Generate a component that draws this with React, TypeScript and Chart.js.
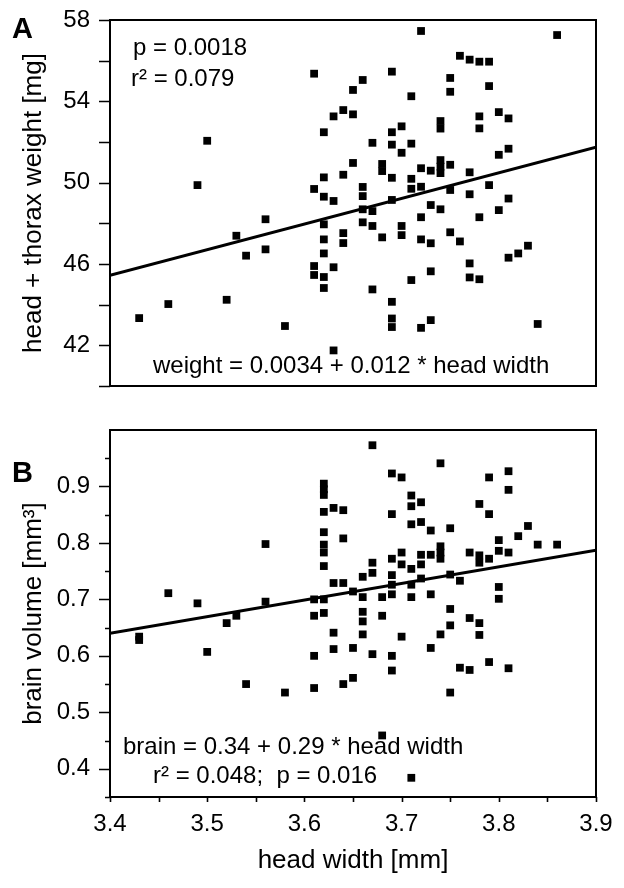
import React, { useEffect, useRef } from "react";
import { Chart, registerables } from "chart.js";

Chart.register(...registerables);

const FONT = "'Liberation Sans', Arial, Helvetica, sans-serif";

// ---- Panel A: head + thorax weight ----
const weightX = [
  3.61, 3.66, 3.65, 3.64, 3.63, 3.65, 3.62, 3.50, 3.65, 3.62,
  3.64, 3.49, 3.61, 3.62, 3.63, 3.66, 3.66, 3.66, 3.67, 3.66,
  3.67, 3.56, 3.53, 3.62, 3.64, 3.64, 3.62, 3.54, 3.56, 3.62,
  3.61, 3.61, 3.63, 3.62, 3.62, 3.67, 3.46, 3.43, 3.52, 3.58,
  3.63, 3.72, 3.86, 3.76, 3.77, 3.78, 3.79, 3.69, 3.75, 3.75,
  3.79, 3.71, 3.80, 3.81, 3.78, 3.78, 3.74, 3.74, 3.70, 3.69,
  3.67, 3.69, 3.71, 3.70, 3.81, 3.80, 3.68, 3.68, 3.72, 3.73,
  3.74, 3.74, 3.74, 3.75, 3.77, 3.69, 3.71, 3.71, 3.72, 3.75,
  3.79, 3.77, 3.81, 3.69, 3.73, 3.74, 3.80, 3.72, 3.78, 3.70,
  3.70, 3.68, 3.75, 3.72, 3.73, 3.76, 3.83, 3.82, 3.81, 3.77,
  3.73, 3.71, 3.77, 3.78, 3.69, 3.69, 3.69, 3.73, 3.72, 3.84,
];
const weightY = [
  55.36, 55.05, 54.56, 53.57, 53.26, 53.36, 52.48, 52.06, 50.97, 50.26,
  50.39, 49.88, 49.69, 49.31, 49.10, 49.79, 49.34, 48.69, 48.60, 48.05,
  47.87, 48.20, 47.39, 47.95, 47.52, 47.03, 47.21, 46.41, 46.72, 46.52,
  45.90, 45.46, 45.84, 45.36, 44.82, 44.75, 44.03, 43.34, 44.24, 42.95,
  41.75, 57.46, 57.26, 56.24, 56.05, 55.95, 55.95, 55.46, 55.15, 54.47,
  54.75, 54.25, 53.47, 53.16, 53.26, 52.67, 53.03, 52.66, 52.77, 52.48,
  51.96, 51.87, 51.92, 51.47, 51.67, 51.37, 50.92, 50.57, 50.71, 50.59,
  51.11, 50.79, 50.47, 50.88, 50.51, 50.24, 50.19, 49.70, 49.80, 49.64,
  49.88, 49.43, 49.22, 49.15, 48.90, 48.69, 48.65, 48.30, 48.30, 47.87,
  47.42, 47.31, 47.56, 47.21, 47.02, 47.11, 46.90, 46.52, 46.31, 46.03,
  45.64, 45.21, 45.34, 45.25, 44.14, 43.32, 42.90, 43.24, 42.86, 43.05,
];
const weightFitX = [3.4, 3.9];
const weightFitY = [45.45, 51.75];

// ---- Panel B: brain volume ----
const brainX = [
  3.56, 3.62, 3.62, 3.62, 3.62, 3.63, 3.64, 3.64, 3.62, 3.62,
  3.62, 3.67, 3.74, 3.69, 3.70, 3.79, 3.81, 3.81, 3.71, 3.71,
  3.72, 3.78, 3.79, 3.69, 3.71, 3.72, 3.73, 3.75, 3.83, 3.82,
  3.80, 3.84, 3.86, 3.80, 3.81, 3.74, 3.74, 3.74, 3.73, 3.72,
  3.72, 3.70, 3.70, 3.69, 3.67, 3.77, 3.78, 3.78, 3.79, 3.71,
  3.66, 3.67, 3.69, 3.69, 3.71, 3.72, 3.75, 3.76, 3.80, 3.80,
  3.66, 3.68, 3.69, 3.71, 3.73, 3.66, 3.66, 3.66, 3.68, 3.75,
  3.75, 3.77, 3.78, 3.78, 3.70, 3.74, 3.73, 3.67, 3.69, 3.69,
  3.76, 3.77, 3.79, 3.81, 3.75, 3.68, 3.71, 3.62, 3.46, 3.49,
  3.64, 3.63, 3.65, 3.61, 3.62, 3.56, 3.53, 3.52, 3.61, 3.62,
  3.63, 3.43, 3.43, 3.50, 3.63, 3.65, 3.61, 3.54, 3.58, 3.61,
  3.64, 3.65,
];
const brainY = [
  0.798, 0.905, 0.895, 0.885, 0.855, 0.862, 0.858, 0.808, 0.819, 0.797,
  0.783, 0.973, 0.941, 0.923, 0.916, 0.916, 0.927, 0.894, 0.884, 0.865,
  0.872, 0.869, 0.851, 0.851, 0.833, 0.837, 0.822, 0.826, 0.830, 0.812,
  0.805, 0.797, 0.797, 0.786, 0.783, 0.794, 0.783, 0.772, 0.779, 0.779,
  0.762, 0.783, 0.762, 0.772, 0.765, 0.783, 0.778, 0.765, 0.772, 0.754,
  0.740, 0.747, 0.743, 0.726, 0.726, 0.737, 0.744, 0.733, 0.722, 0.701,
  0.704, 0.704, 0.709, 0.704, 0.709, 0.678, 0.661, 0.638, 0.671, 0.683,
  0.654, 0.667, 0.658, 0.637, 0.634, 0.638, 0.614, 0.603, 0.600, 0.574,
  0.579, 0.575, 0.589, 0.578, 0.535, 0.459, 0.384, 0.759, 0.711, 0.693,
  0.729, 0.729, 0.714, 0.700, 0.700, 0.696, 0.671, 0.658, 0.671, 0.676,
  0.641, 0.634, 0.628, 0.607, 0.612, 0.614, 0.600, 0.550, 0.535, 0.543,
  0.550, 0.561,
];
const brainFitX = [3.4, 3.9];
const brainFitY = [0.64, 0.787];

// ---- ticks ----
const xTickLabels = [3.4, 3.5, 3.6, 3.7, 3.8, 3.9];
const xTickMarks = [3.4, 3.45, 3.5, 3.55, 3.6, 3.65, 3.7, 3.75, 3.8, 3.85, 3.9];
const weightTickLabels = [42, 46, 50, 54, 58];
const weightTickMarks = [40, 42, 44, 46, 48, 50, 52, 54, 56, 58];
const brainTickLabels = [0.4, 0.5, 0.6, 0.7, 0.8, 0.9];
const brainMinorMarks = [0.35, 0.45, 0.55, 0.65, 0.75, 0.85, 0.95];

type TextItem = { text: string; x: number; y: number; font: string };

function decorPlugin(cfg: {
  yMajor: number[];
  yMinor: number[];
  xMarks: number[];
  texts: TextItem[];
}) {
  return {
    id: "decor",
    afterDraw(chart: any) {
      const { ctx, chartArea: a, scales } = chart;
      ctx.save();
      ctx.strokeStyle = "#000";
      ctx.lineWidth = 2;
      ctx.strokeRect(a.left, a.top, a.right - a.left, a.bottom - a.top);
      ctx.lineWidth = 1.6;
      ctx.beginPath();
      cfg.yMajor.forEach((v) => {
        const y = Math.round(scales.y.getPixelForValue(v)) + 0.5;
        ctx.moveTo(a.left - 11, y);
        ctx.lineTo(a.left, y);
      });
      cfg.yMinor.forEach((v) => {
        const y = Math.round(scales.y.getPixelForValue(v)) + 0.5;
        ctx.moveTo(a.left - 5, y);
        ctx.lineTo(a.left, y);
      });
      cfg.xMarks.forEach((v) => {
        const x = Math.round(scales.x.getPixelForValue(v)) + 0.5;
        ctx.moveTo(x, a.bottom);
        ctx.lineTo(x, a.bottom + 5);
      });
      ctx.stroke();
      ctx.fillStyle = "#000";
      ctx.textBaseline = "alphabetic";
      ctx.textAlign = "left";
      cfg.texts.forEach((t) => {
        ctx.font = t.font;
        ctx.fillText(t.text, t.x, t.y);
      });
      ctx.restore();
    },
  };
}

function pts(xs: number[], ys: number[]) {
  return xs.map((x, i) => ({ x, y: ys[i] }));
}

function makeConfig(opts: {
  xs: number[];
  ys: number[];
  fitX: number[];
  fitY: number[];
  yMin: number;
  yMax: number;
  yLabels: number[];
  yFmt: (v: number) => string;
  yTitle: string;
  showX: boolean;
  padBottom: number;
  plugin: any;
}): any {
  return {
    type: "scatter",
    data: {
      datasets: [
        {
          type: "line",
          data: pts(opts.fitX, opts.fitY),
          borderColor: "#000",
          borderWidth: 3,
          pointRadius: 0,
          fill: false,
        },
        {
          data: pts(opts.xs, opts.ys),
          pointStyle: "rect",
          pointRadius: 5.5,
          backgroundColor: "#000",
          borderWidth: 0,
        },
      ],
    },
    options: {
      animation: false,
      responsive: false,
      devicePixelRatio: 1,
      layout: { padding: { left: 0, right: 28, top: 20, bottom: opts.padBottom } },
      plugins: { legend: { display: false }, tooltip: { enabled: false } },
      scales: {
        x: {
          type: "linear",
          min: 3.4,
          max: 3.9,
          display: opts.showX,
          afterBuildTicks: (s: any) => {
            s.ticks = xTickLabels.map((v) => ({ value: v }));
          },
          afterFit: (s: any) => {
            if (opts.showX) s.height = 91;
            s.paddingLeft = 0;
            s.paddingRight = 0;
            s.paddingTop = 0;
            s.paddingBottom = 0;
          },
          grid: { display: false },
          border: { display: false },
          ticks: {
            autoSkip: false,
            maxRotation: 0,
            padding: 5,
            color: "#000",
            font: { family: FONT, size: 24 },
            callback: (v: number) => v.toFixed(1),
          },
          title: {
            display: true,
            text: "head width [mm]",
            color: "#000",
            font: { family: FONT, size: 26 },
            padding: { top: 0, bottom: 12 },
          },
        },
        y: {
          type: "linear",
          min: opts.yMin,
          max: opts.yMax,
          afterBuildTicks: (s: any) => {
            s.ticks = opts.yLabels.map((v) => ({ value: v }));
          },
          afterFit: (s: any) => {
            s.width = 110;
            s.paddingLeft = 0;
            s.paddingRight = 0;
            s.paddingTop = 0;
            s.paddingBottom = 0;
          },
          grid: { display: false },
          border: { display: false },
          ticks: {
            padding: 12,
            color: "#000",
            font: { family: FONT, size: 24 },
            callback: (v: number) => opts.yFmt(v),
          },
          title: {
            display: true,
            text: opts.yTitle,
            color: "#000",
            font: { family: FONT, size: 26 },
            padding: { top: 18, bottom: 0 },
          },
        },
      },
    },
    plugins: [opts.plugin],
  };
}

export default function App() {
  const refA = useRef<HTMLCanvasElement | null>(null);
  const refB = useRef<HTMLCanvasElement | null>(null);

  useEffect(() => {
    const ann = `24px ${FONT}`;
    const letter = `bold 29px ${FONT}`;
    const chartA = new Chart(
      refA.current as HTMLCanvasElement,
      makeConfig({
        xs: weightX,
        ys: weightY,
        fitX: weightFitX,
        fitY: weightFitY,
        yMin: 40,
        yMax: 58,
        yLabels: weightTickLabels,
        yFmt: (v) => String(v),
        yTitle: "head + thorax weight [mg]",
        showX: false,
        padBottom: 24,
        plugin: decorPlugin({
          yMajor: weightTickMarks,
          yMinor: [],
          xMarks: [],
          texts: [
            { text: "A", x: 12, y: 38, font: letter },
            { text: "p = 0.0018", x: 133, y: 55, font: ann },
            { text: "r\u00B2 = 0.079", x: 131, y: 86, font: ann },
            { text: "weight = 0.0034 + 0.012 * head width", x: 153, y: 373, font: ann },
          ],
        }),
      })
    );
    const chartB = new Chart(
      refB.current as HTMLCanvasElement,
      makeConfig({
        xs: brainX,
        ys: brainY,
        fitX: brainFitX,
        fitY: brainFitY,
        yMin: 0.35,
        yMax: 1.0,
        yLabels: brainTickLabels,
        yFmt: (v) => v.toFixed(1),
        yTitle: "brain volume [mm\u00B3]",
        showX: true,
        padBottom: 0,
        plugin: decorPlugin({
          yMajor: brainTickLabels,
          yMinor: brainMinorMarks,
          xMarks: xTickMarks,
          texts: [
            { text: "B", x: 12, y: 72, font: letter },
            { text: "brain = 0.34 + 0.29 * head width", x: 123, y: 344, font: ann },
            { text: "r\u00B2 = 0.048;  p = 0.016", x: 153, y: 373, font: ann },
          ],
        }),
      })
    );
    return () => {
      chartA.destroy();
      chartB.destroy();
    };
  }, []);

  return (
    <div style={{ position: "absolute", left: 0, top: 0, width: 624, height: 888, background: "#fff" }}>
      <canvas ref={refA} width={624} height={410} style={{ position: "absolute", left: 0, top: 0, width: 624, height: 410 }} />
      <canvas ref={refB} width={624} height={478} style={{ position: "absolute", left: 0, top: 410, width: 624, height: 478 }} />
    </div>
  );
}
